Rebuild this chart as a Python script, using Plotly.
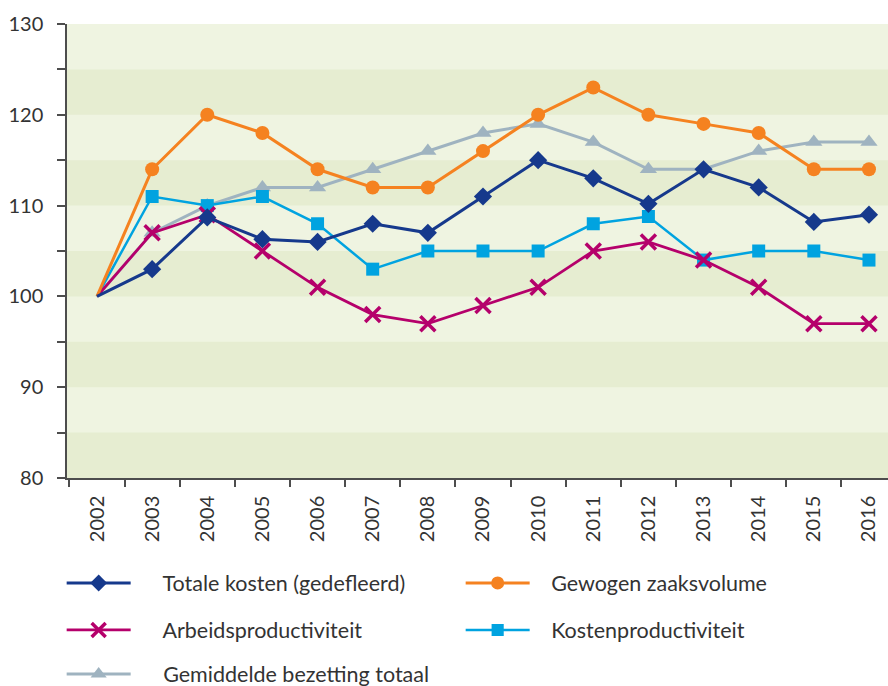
import plotly.graph_objects as go

years = [str(y) for y in range(2002, 2017)]

totale_kosten = [100, 103, 108.7, 106.3, 106, 108, 107, 111, 115, 113, 110.2, 114, 112, 108.2, 109]
gewogen_zaaksvolume = [100, 114, 120, 118, 114, 112, 112, 116, 120, 123, 120, 119, 118, 114, 114]
arbeidsproductiviteit = [100, 107, 109, 105, 101, 98, 97, 99, 101, 105, 106, 104, 101, 97, 97]
kostenproductiviteit = [100, 111, 110, 111, 108, 103, 105, 105, 105, 108, 108.8, 104, 105, 105, 104]
gemiddelde_bezetting = [100, 107, 110, 112, 112, 114, 116, 118, 119, 117, 114, 114, 116, 117, 117]

series_names = ["Totale kosten (gedefleerd)", "Gewogen zaaksvolume",
                "Arbeidsproductiviteit", "Kostenproductiviteit",
                "Gemiddelde bezetting totaal"]

y_min, y_max, band_step = 80, 130, 5

FONT = "Lato"
TXT = "#333333"
PAD1 = "\u00a0" * 5  # gap between legend symbol and text, column 1
PAD2 = "\u00a0" * 3  # column 2

def sizes(s):
    # no marker on the base year
    return [0] + [s] * (len(years) - 1)

fig = go.Figure()

# drawing order (bottom -> top); legend order via legendrank
fig.add_trace(go.Scatter(
    x=years, y=gemiddelde_bezetting, name=PAD1 + series_names[4],
    mode="lines+markers", legend="legend3", legendrank=5,
    line=dict(color="#9fb3c0", width=3),
    marker=dict(symbol="triangle-up", size=sizes(15), color="#9fb3c0",
                opacity=1, line=dict(width=0)),
))
fig.add_trace(go.Scatter(
    x=years, y=kostenproductiviteit, name=PAD2 + series_names[3],
    mode="lines+markers", legend="legend2", legendrank=4,
    line=dict(color="#00a3e0", width=2.5),
    marker=dict(symbol="square", size=sizes(13), color="#00a3e0",
                opacity=1, line=dict(width=0)),
))
fig.add_trace(go.Scatter(
    x=years, y=arbeidsproductiviteit, name=PAD1 + series_names[2],
    mode="lines+markers", legend="legend2", legendrank=3,
    line=dict(color="#b5006b", width=2.8),
    marker=dict(symbol="x-thin", size=sizes(15), color="#b5006b",
                opacity=1, line=dict(color="#b5006b", width=3.5)),
))
fig.add_trace(go.Scatter(
    x=years, y=gewogen_zaaksvolume, name=PAD2 + series_names[1],
    mode="lines+markers", legend="legend", legendrank=2,
    line=dict(color="#f58220", width=3),
    marker=dict(symbol="circle", size=sizes(14), color="#f58220",
                opacity=1, line=dict(width=0)),
))
fig.add_trace(go.Scatter(
    x=years, y=totale_kosten, name=PAD1 + series_names[0],
    mode="lines+markers", legend="legend", legendrank=1,
    line=dict(color="#16398c", width=3),
    marker=dict(symbol="diamond", size=sizes(14), color="#16398c",
                opacity=1, line=dict(width=0)),
))

# alternating horizontal bands
shapes = []
v = y_min
i = 0
while v < y_max:
    if i % 2 == 0:
        shapes.append(dict(type="rect", xref="paper", yref="y", x0=0, x1=1,
                           y0=v, y1=v + band_step, fillcolor="#e6edd1",
                           line=dict(width=0), layer="below"))
    v += band_step
    i += 1

legend_common = dict(
    orientation="h", xanchor="left", yanchor="middle",
    font=dict(family=FONT, size=21.5, color=TXT),
    itemwidth=64, entrywidth=320, entrywidthmode="pixels",
    bgcolor="rgba(0,0,0,0)", traceorder="normal", itemclick=False,
)

fig.update_layout(
    width=888, height=686,
    margin=dict(l=67, r=0, t=24, b=208, autoexpand=False),
    paper_bgcolor="white",
    plot_bgcolor="#eff4e1",
    shapes=shapes,
    showlegend=True,
    legend=dict(legend_common, x=-0.0065, y=-0.2313),
    legend2=dict(legend_common, x=-0.0065, y=-0.3348),
    legend3=dict(legend_common, x=-0.0065, y=-0.4317),
    xaxis=dict(
        type="category", range=[-0.544, 14.345], automargin=False,
        tickangle=-90, tickson="boundaries", ticks="outside", ticklen=7,
        tickcolor="#4d4d4d", tickwidth=1.5,
        showline=True, linecolor="#4d4d4d", linewidth=1.5,
        showgrid=False, zeroline=False,
        tickfont=dict(family=FONT, size=20, color=TXT),
        ticklabelstandoff=8,
    ),
    yaxis=dict(
        range=[y_min, y_max], dtick=10, tick0=80, automargin=False,
        ticks="outside", ticklen=8, tickcolor="#4d4d4d", tickwidth=1.5,
        minor=dict(dtick=5, ticks="outside", ticklen=8, tickcolor="#4d4d4d",
                   tickwidth=1.5, showgrid=False),
        showline=True, linecolor="#4d4d4d", linewidth=1.5,
        showgrid=False, zeroline=False,
        tickfont=dict(family=FONT, size=20, color=TXT),
        ticklabelstandoff=10,
    ),
)

fig.write_html("out.html", config={"displayModeBar": False},
               post_script="document.body.style.margin='0';")
